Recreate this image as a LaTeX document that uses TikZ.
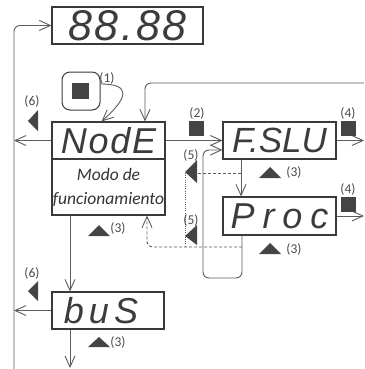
\documentclass[tikz,border=0pt]{standalone}
\usepackage{fontspec}
\setmainfont{Carlito}
\newfontfamily\segfont{Liberation Sans}
\usetikzlibrary{arrows.meta}
\definecolor{boxc}{HTML}{3A3A3A}
\definecolor{linec}{HTML}{5C5C5C}
\definecolor{markc}{HTML}{444444}
\definecolor{labc}{HTML}{4A4A4A}
\definecolor{segc}{HTML}{3C3C3C}
\begin{document}
\begin{tikzpicture}[x=1pt,y=-1pt,
  box/.style={draw=boxc, line width=1.1pt, inner sep=0pt, minimum height=37pt, minimum width=113pt},
  seg/.style={font=\segfont\itshape\fontsize{36}{36}\selectfont, text=segc},
  conn/.style={draw=linec, line width=0.9pt},
  arr/.style={conn, -{Straight Barb[length=11pt,width=10pt]}},
  dsh/.style={arr, dash pattern=on 3pt off 2pt},
  dot/.style={conn, dash pattern=on 1pt off 1.2pt},
  lab/.style={font=\fontsize{13.5}{13.5}\selectfont, text=labc, inner sep=0pt},
  btnbox/.style={draw=boxc, line width=1pt, rounded corners=8pt, minimum width=38pt, minimum height=38pt, inner sep=0pt}
]
\useasboundingbox (0,0) rectangle (364,369);

% boxes
\node[box, seg, minimum width=151pt, font=\segfont\itshape\fontsize{43}{43}\selectfont\addfontfeatures{LetterSpace=6}] (disp) at (127.5,25.5) {88.88};
\node[box, seg, font=\segfont\itshape\fontsize{36}{36}\selectfont\addfontfeatures{LetterSpace=5}] (nodeTop) at (108.5,140.5) {NodE};
\node[box, minimum height=56pt, align=center, font=\itshape\fontsize{17.5}{24}\selectfont, text=black!80] (nodeBot) at (108.5,187) {Modo de\\funcionamiento};
\node[box, seg, font=\segfont\itshape\fontsize{35}{35}\selectfont] (fslu) at (279.5,140.5) {F.SLU};
\node[box, seg, minimum height=38pt, font=\segfont\itshape\fontsize{36}{36}\selectfont\addfontfeatures{LetterSpace=22}] (proc) at (279.5,216) {Proc};
\node[box, seg, minimum width=112pt, font=\segfont\itshape\fontsize{36}{36}\selectfont\addfontfeatures{LetterSpace=14}] (bus) at (108,310.5) {\hspace*{-14pt}buS};

% button (1)
\node[btnbox] (btn) at (81,91) {};
\fill[markc] (72,83) rectangle (89,99);
\node[lab] (l1) at (107,78) {(1)};
\draw[arr] ([yshift=7pt]btn.east) .. controls (132,84) and (128,98) .. ([xshift=-7pt]nodeTop.north);

% coordinates for free ends
\coordinate (lb) at (14,369);
\coordinate (r0) at (364,83);
\coordinate (r1) at (364,140.5);
\coordinate (r2) at (364,216);
\coordinate (bb) at (70,368);
\coordinate (lp) at (203,150);

% left return line
\draw[arr, rounded corners=6pt] (lb) |- (disp.west);
\draw[arr] (nodeTop.west) -- (nodeTop.west -| lb);
\draw[arr] (bus.west) -- (bus.west -| lb);

% main flow
\draw[arr] (nodeTop.east) -- (fslu.west);
\draw[arr] (fslu.east) -- (r1);
\draw[arr] (proc.east) -- (r2);
\draw[arr, rounded corners=6pt] (r0) -| ([xshift=36.5pt]nodeTop.north);
\draw[arr] ([xshift=-38.5pt]fslu.south) -- ([xshift=-38.5pt]proc.north);
\draw[arr, rounded corners=6pt] ([xshift=-37.5pt]proc.south) -- (242,278) -- (203,278) -- (lp) -- (lp -| fslu.west);
\draw[arr] ([xshift=-38.5pt]nodeBot.south) -- ([xshift=-38pt]bus.north);
\draw[arr] ([xshift=-38pt]bus.south) -- (bb);

% dashed returns
\draw[conn, dash pattern=on 3pt off 2pt] (241,173) -- (185,173);
\draw[dot] (185,173) -- (185,247);
\draw[dsh, rounded corners=6pt] (242,247) -- (147,247) -- ([xshift=38.5pt]nodeBot.south);

% markers
\fill[markc] (38,110) -- (38,131) -- (28,121) -- cycle;
\node[lab] (l6a) at (32,101) {(6)};
\fill[markc] (38,281) -- (38,301) -- (28,291) -- cycle;
\node[lab] (l6b) at (32,273) {(6)};
\fill[markc] (189,121) rectangle (204,136);
\node[lab] (l2) at (197,113) {(2)};
\fill[markc] (341,121) rectangle (356,136);
\node[lab] (l4a) at (348,113) {(4)};
\fill[markc] (341,197) rectangle (356,212);
\node[lab] (l4b) at (348,189) {(4)};
\fill[markc] (197,160) -- (197,183) -- (185,172) -- cycle;
\node[lab] (l5a) at (191,155) {(5)};
\fill[markc] (197,225) -- (197,245) -- (185,236) -- cycle;
\node[lab] (l5b) at (191,220) {(5)};
\fill[markc] (259,178) -- (281,178) -- (270,167) -- cycle;
\node[lab] (l3a) at (294,172) {(3)};
\fill[markc] (259,254) -- (281,254) -- (270,243) -- cycle;
\node[lab] (l3b) at (294,249) {(3)};
\fill[markc] (88,236) -- (110,236) -- (99,225) -- cycle;
\node[lab] (l3c) at (118,228) {(3)};
\fill[markc] (88,347) -- (110,347) -- (99,337) -- cycle;
\node[lab] (l3d) at (118,342) {(3)};
\end{tikzpicture}
\end{document}
